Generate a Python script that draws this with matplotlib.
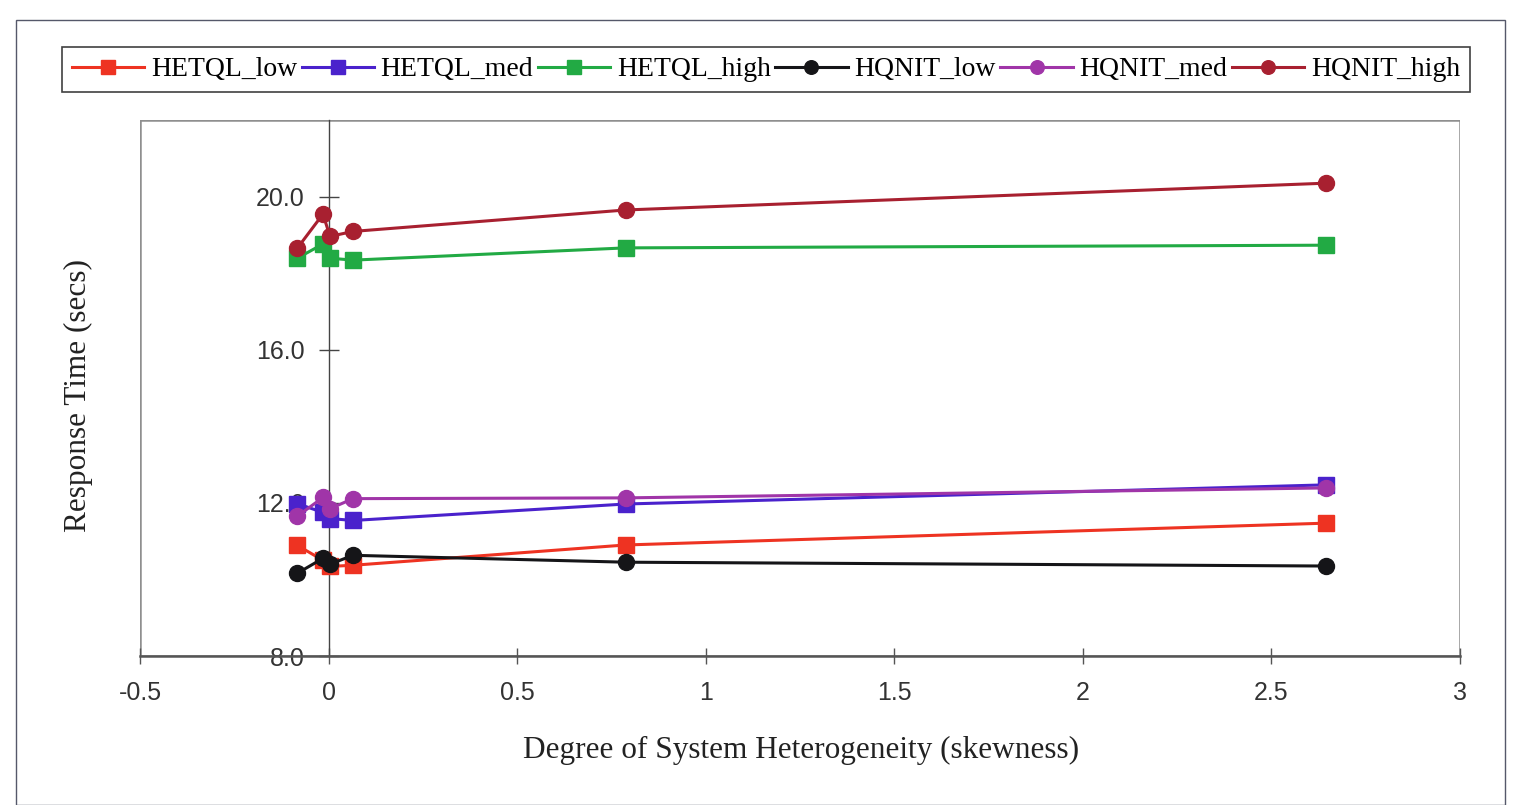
import matplotlib
matplotlib.use("Agg")
import matplotlib.pyplot as plt
from matplotlib.patches import Rectangle

# Skewness values (shared by all series)
skewness = [-0.083, -0.015, 0.004, 0.065, 0.788, 2.645]

hetql_low = [10.89, 10.50, 10.34, 10.37, 10.90, 11.47]
hetql_med = [11.98, 11.75, 11.59, 11.54, 11.97, 12.47]
hetql_high = [18.39, 18.76, 18.39, 18.34, 18.66, 18.73]
hqnit_low = [10.16, 10.55, 10.40, 10.63, 10.45, 10.35]
hqnit_med = [11.65, 12.14, 11.85, 12.11, 12.13, 12.39]
hqnit_high = [18.65, 19.54, 18.96, 19.09, 19.65, 20.35]

series_names = ["HETQL_low", "HETQL_med", "HETQL_high",
                "HQNIT_low", "HQNIT_med", "HQNIT_high"]
series_values = [hetql_low, hetql_med, hetql_high,
                 hqnit_low, hqnit_med, hqnit_high]
series_colors = ["#EE3322", "#4A22CC", "#22AA44",
                 "#151518", "#A035A8", "#A82030"]
series_markers = ["s", "s", "s", "o", "o", "o"]

x_ticks = [-0.5, 0, 0.5, 1, 1.5, 2, 2.5, 3]
x_tick_labels = ["-0.5", "0", "0.5", "1", "1.5", "2", "2.5", "3"]
y_ticks = [8.0, 12.0, 16.0, 20.0]
y_tick_labels = ["8.0", "12.0", "16.0", "20.0"]

W, H = 1515, 805
fig = plt.figure(figsize=(W / 100, H / 100), dpi=100)
fig.patch.set_facecolor("white")

# outer chart border
fig.patches.append(Rectangle((16 / W, 0.0), (1505 - 16) / W, 1 - 20 / H,
                             transform=fig.transFigure, fill=False,
                             edgecolor="#55586a", linewidth=1.0))

ax = fig.add_axes([140 / W, 1 - 656 / H, (1460 - 140) / W, (656 - 120) / H])
ax.set_xlim(-0.5, 3)
ax.set_ylim(8, 22)

handles = []
for name, vals, col, mk in zip(series_names, series_values,
                               series_colors, series_markers):
    ln, = ax.plot(skewness, vals, color=col, marker=mk, markersize=11.5,
                  markeredgecolor=col, markerfacecolor=col, linewidth=2.2,
                  label=name, clip_on=False, zorder=3)
    handles.append(ln)

# plot area frame
for s in ["top", "right"]:
    ax.spines[s].set_visible(False)
ax.add_patch(Rectangle((0, 0), 1, 1, transform=ax.transAxes, fill=False,
                       edgecolor="#8f8f8f", linewidth=1.8, zorder=1))
ax.spines["bottom"].set_color("#555555")
ax.spines["bottom"].set_linewidth(1.8)
ax.spines["left"].set_position(("data", 0))
ax.spines["left"].set_color("#444444")
ax.spines["left"].set_linewidth(1.0)

ax.set_xticks(x_ticks)
ax.set_xticklabels(x_tick_labels)
ax.set_yticks(y_ticks)
ax.set_yticklabels(y_tick_labels)
ax.tick_params(axis="x", direction="inout", length=12, width=1.0,
               color="#555555", pad=12, labelsize=18, labelcolor="#333333")
ax.tick_params(axis="y", direction="inout", length=14, width=1.0,
               color="#444444", pad=10, labelsize=18, labelcolor="#333333")
for lbl in ax.get_xticklabels() + ax.get_yticklabels():
    lbl.set_fontfamily("Liberation Sans")

fig.text(78 / W, 1 - 395 / H, "Response Time (secs)", rotation=90,
         ha="center", va="center", fontsize=22.5, family="Liberation Serif",
         color="#222222")
fig.text(801 / W, 1 - 750 / H, "Degree of System Heterogeneity (skewness)",
         ha="center", va="center", fontsize=22.5, family="Liberation Serif",
         color="#222222")

leg = fig.legend(handles=handles, labels=series_names, ncol=6,
                 loc="lower left", mode="expand",
                 bbox_to_anchor=(62 / W, 1 - 92 / H, (1470 - 62) / W, 52 / H),
                 bbox_transform=fig.transFigure,
                 prop={"family": "Liberation Serif", "size": 20},
                 frameon=True, fancybox=False, edgecolor="#111111",
                 handlelength=2.6, handletextpad=0.25, columnspacing=0.25,
                 borderaxespad=0, borderpad=0.35, markerscale=0.85)
leg.get_frame().set_linewidth(1.2)

fig.savefig("out.png", dpi=100, facecolor="white")
